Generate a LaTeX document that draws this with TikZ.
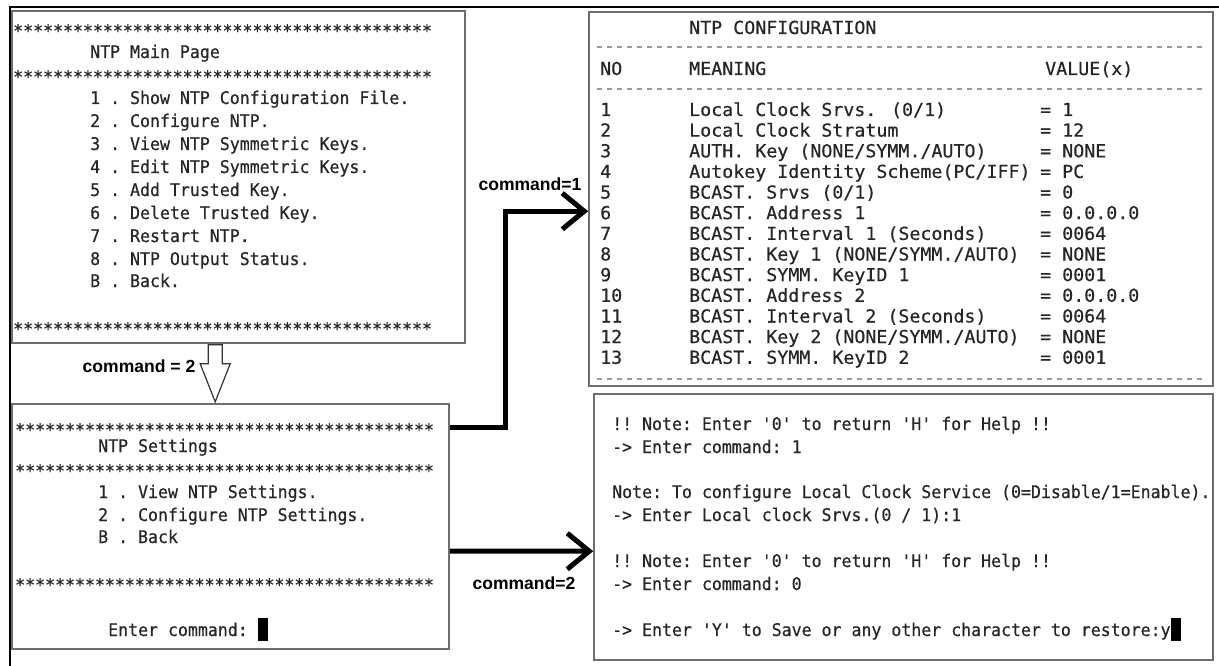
\documentclass[tikz,border=0pt]{standalone}
\usepackage{fontspec}
\setmonofont[FakeStretch=0.95,FakeBold=0.5]{DejaVu Sans Mono}
\newfontfamily\confont[FakeStretch=1.02,FakeBold=0.5]{DejaVu Sans Mono}
\newfontfamily\lblfont{Liberation Sans}
\usetikzlibrary{arrows.meta,calc}
\definecolor{boxgray}{HTML}{6E6E6E}
\definecolor{termtxt}{HTML}{262626}
\definecolor{dashgray}{HTML}{9A9A9A}
\tikzset{
  box/.style={draw=boxgray, line width=1.6bp, inner sep=0pt, fill=white},
  tl/.style={anchor=base west, inner sep=0pt, text=termtxt, font=\ttfamily\fontsize{17.5}{20}\selectfont},
  cl/.style={anchor=base west, inner sep=0pt, text=termtxt, font=\confont\fontsize{18}{20}\selectfont},
  lbl/.style={inner sep=0pt, text=black, font=\lblfont\bfseries\fontsize{17.6}{20}\selectfont},
  conn/.style={line width=5bp, black, -{Straight Barb[length=22bp,width=36bp]}},
  dashrule/.style={draw=dashgray, line width=2.2bp, dash pattern=on 5bp off 5bp},
  cursor/.style={fill=black, draw=none, inner sep=0pt, minimum width=10bp, minimum height=23bp}
}
\newcommand{\confrow}[5]{%
  \node[cl] (rn#1) at (600,#2) {#3};
  \node[cl] (rm#1) at (689,#2) {#4};
  \node[cl] (rv#1) at (1040,#2) {#5};
}
\begin{document}
\begin{tikzpicture}[x=1bp,y=-1bp]
\useasboundingbox (0,0) rectangle (1219,666);
% outer frame (top and left edges)
\draw[line width=1.2bp] (10,666) -- (10,7) -- (1219,7);

% ---------- Box 1: NTP Main Page ----------
\node[box, minimum width=453bp, minimum height=332bp] (main) at (238.5,177) {};
\def\stars{******************************************}
\node[tl] (m0) at (13,37) {\stars};
\node[tl] (m1) at (90,58) {NTP Main Page};
\node[tl] (m2) at (13,83) {\stars};
\node[tl] (m3) at (90,104) {1 . Show NTP Configuration File.};
\node[tl] (m4) at (90,127) {2 . Configure NTP.};
\node[tl] (m5) at (90,150) {3 . View NTP Symmetric Keys.};
\node[tl] (m6) at (90,173) {4 . Edit NTP Symmetric Keys.};
\node[tl] (m7) at (90,196) {5 . Add Trusted Key.};
\node[tl] (m8) at (90,219) {6 . Delete Trusted Key.};
\node[tl] (m9) at (90,242) {7 . Restart NTP.};
\node[tl] (m10) at (90,265) {8 . NTP Output Status.};
\node[tl] (m11) at (90,287) {B . Back.};
\node[tl] (m12) at (13,335) {\stars};

% ---------- Box 2: NTP Settings ----------
\node[box, minimum width=437bp, minimum height=245bp] (set) at (230.5,526.5) {};
\node[tl] (s0) at (15,436) {\stars};
\node[tl] (s1) at (98,452) {NTP Settings};
\node[tl] (s2) at (15,477) {\stars};
\node[tl] (s3) at (98,498) {1 . View NTP Settings.};
\node[tl] (s4) at (98,521) {2 . Configure NTP Settings.};
\node[tl] (s5) at (98,543) {B . Back};
\node[tl] (s6) at (15,591) {\stars};
\node[tl] (s7) at (108,636) {Enter command:};
\node[cursor] (s8) at (263,629) {};

% ---------- Box 3: NTP CONFIGURATION ----------
\node[box, minimum width=624bp, minimum height=374bp] (conf) at (901,199) {};
\node[cl] (c0) at (689,34) {NTP CONFIGURATION};
\draw[dashrule] ($(conf.north west)+(9,36)$) -- ($(conf.north east)+(-12,36)$);
\node[cl] (c1) at (600,75) {NO};
\node[cl] (c2) at (689,75) {MEANING};
\node[cl] (c3) at (1045,75) {VALUE(x)};
\draw[dashrule] ($(conf.north west)+(9,78)$) -- ($(conf.north east)+(-12,78)$);
\confrow{1}{116.0}{1}{Local Clock Srvs. (0/1)}{= 1}
\confrow{2}{136.6}{2}{Local Clock Stratum}{= 12}
\confrow{3}{157.3}{3}{AUTH. Key (NONE/SYMM./AUTO)}{= NONE}
\confrow{4}{177.9}{4}{Autokey Identity Scheme(PC/IFF)}{= PC}
\confrow{5}{198.6}{5}{BCAST. Srvs (0/1)}{= 0}
\confrow{6}{219.2}{6}{BCAST. Address 1}{= 0.0.0.0}
\confrow{7}{239.9}{7}{BCAST. Interval 1 (Seconds)}{= 0064}
\confrow{8}{260.5}{8}{BCAST. Key 1 (NONE/SYMM./AUTO)}{= NONE}
\confrow{9}{281.2}{9}{BCAST. SYMM. KeyID 1}{= 0001}
\confrow{10}{301.8}{10}{BCAST. Address 2}{= 0.0.0.0}
\confrow{11}{322.5}{11}{BCAST. Interval 2 (Seconds)}{= 0064}
\confrow{12}{343.1}{12}{BCAST. Key 2 (NONE/SYMM./AUTO)}{= NONE}
\confrow{13}{363.8}{13}{BCAST. SYMM. KeyID 2}{= 0001}
\draw[dashrule] ($(conf.south west)+(9,-8)$) -- ($(conf.south east)+(-12,-8)$);

% ---------- Box 4: command session ----------
\node[box, minimum width=619bp, minimum height=266bp] (cmd) at (903.5,527) {};
\node[tl] (t1) at (612,430) {!! Note: Enter '0' to return 'H' for Help !!};
\node[tl] (t2) at (612,453) {-> Enter command: 1};
\node[tl] (t3) at (612,498) {Note: To configure Local Clock Service (0=Disable/1=Enable).};
\node[tl] (t4) at (612,521) {-> Enter Local clock Srvs.(0 / 1):1};
\node[tl] (t5) at (612,567) {!! Note: Enter '0' to return 'H' for Help !!};
\node[tl] (t6) at (612,590) {-> Enter command: 0};
\node[tl] (t7) at (612,636) {-> Enter 'Y' to Save or any other character to restore:y};
\node[cursor] (t8) at (1176,629) {};

% ---------- Connectors ----------
% hollow arrow from main page to settings
\coordinate (h0) at ($(main.south west)+(197,1)$);
\draw[line width=1.2bp, draw=black!80, fill=white]
  (h0) -- ++(14,0) -- ++(0,19) -- ++(8,0) -- ++(-15,38) -- ++(-15,-38) -- ++(8,0) -- cycle;
\node[lbl] (l2) at (139,366) {command = 2};

% command=1 : settings -> configuration
\draw[conn, line join=miter] ($(set.north east)+(0,24)$) -- ++(56,0) |- ($(conf.north west)+(0,200)$);
\node[lbl] (l1) at (530,184) {command=1};

% command=2 : settings -> session
\draw[conn] ($(set.north east)+(0,148)$) -- ($(cmd.north west)+(0,158)$);
\node[lbl] (l3) at (524,583) {command=2};
\end{tikzpicture}
\end{document}
